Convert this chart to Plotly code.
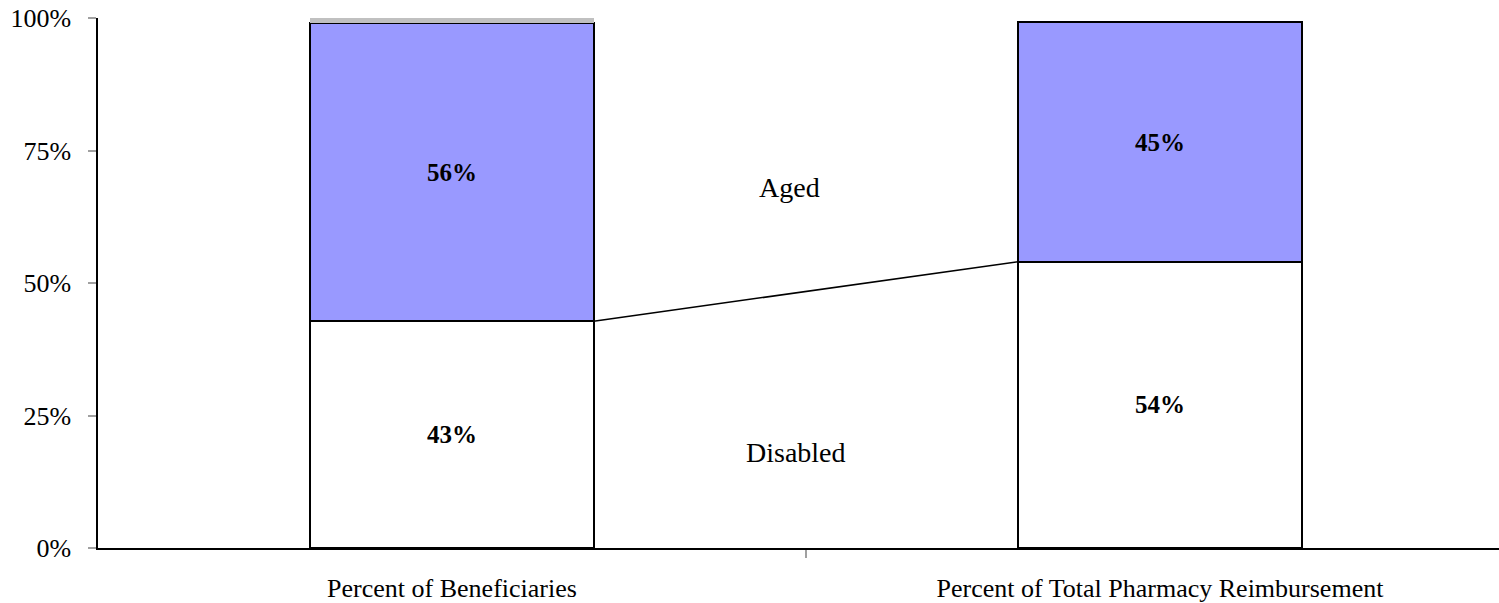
import plotly.graph_objects as go

categories = ["Percent of Beneficiaries", "Percent of Total Pharmacy Reimbursement"]
disabled = [42.8, 54.0]
aged = [56.2, 45.2]
other = [1.0, 0.0]
disabled_labels = ["43%", "54%"]
aged_labels = ["56%", "45%"]
ytick_vals = [0, 25, 50, 75, 100]
ytick_text = ["0%", "25%", "50%", "75%", "100%"]

xpos = [0, 1]
bar_w = 0.4
FONT = "Liberation Serif, Times New Roman, serif"

fig = go.Figure()
fig.add_trace(go.Bar(x=xpos, y=disabled, width=bar_w, name="Disabled",
                     marker=dict(color="white", line=dict(color="black", width=2)),
                     text=disabled_labels, textposition="inside", insidetextanchor="middle",
                     textfont=dict(family=FONT, size=25, color="black", weight="bold"),
                     cliponaxis=False))
fig.add_trace(go.Bar(x=xpos, y=aged, width=bar_w, name="Aged",
                     marker=dict(color="#9999FF", line=dict(color="black", width=2)),
                     text=aged_labels, textposition="inside", insidetextanchor="middle",
                     textfont=dict(family=FONT, size=25, color="black", weight="bold"),
                     cliponaxis=False))
fig.add_trace(go.Bar(x=xpos[:1], y=other[:1], width=bar_w, name="Other",
                     marker=dict(color="#C0C0C0", line=dict(color="#C0C0C0", width=0)),
                     cliponaxis=False, hoverinfo="skip"))
# series line between the disabled segment tops
fig.add_trace(go.Scatter(x=[xpos[0] + bar_w / 2, xpos[1] - bar_w / 2], y=disabled,
                         mode="lines", line=dict(color="black", width=1.5),
                         showlegend=False, hoverinfo="skip"))

fig.add_annotation(x=0.477, y=68.1, text="Aged", showarrow=False,
                   font=dict(family=FONT, size=28, color="black"))
fig.add_annotation(x=0.486, y=18.1, text="Disabled", showarrow=False,
                   font=dict(family=FONT, size=28, color="black"))

fig.update_layout(
    barmode="stack",
    width=1499, height=603,
    margin=dict(l=98, r=0, t=18, b=55),
    paper_bgcolor="white", plot_bgcolor="white",
    showlegend=False,
    font=dict(family=FONT, color="black"),
    xaxis=dict(range=[-0.5, -0.5 + 1401 / 708], tickvals=xpos, ticktext=categories,
               ticks="", showline=True, linecolor="black", linewidth=1.5,
               showgrid=False, zeroline=False, tickfont=dict(size=26),
               ticklabelstandoff=16, automargin=False, ticklabeloverflow="allow",
               minor=dict(tickvals=[0.5], ticks="outside", ticklen=8,
                          tickcolor="#A0A0A0", tickwidth=2, showgrid=False)),
    yaxis=dict(range=[0, 100], tickvals=ytick_vals, ticktext=ytick_text,
               ticks="outside", ticklen=8, tickcolor="#A0A0A0", tickwidth=2,
               showline=True, linecolor="black", linewidth=1.5,
               showgrid=False, zeroline=False, tickfont=dict(size=26),
               ticklabelstandoff=12, automargin=False, ticklabeloverflow="allow"),
)
fig.write_html("out.html", config={"displayModeBar": False},
               post_script="document.body.style.margin='0';document.body.style.overflow='hidden';")
